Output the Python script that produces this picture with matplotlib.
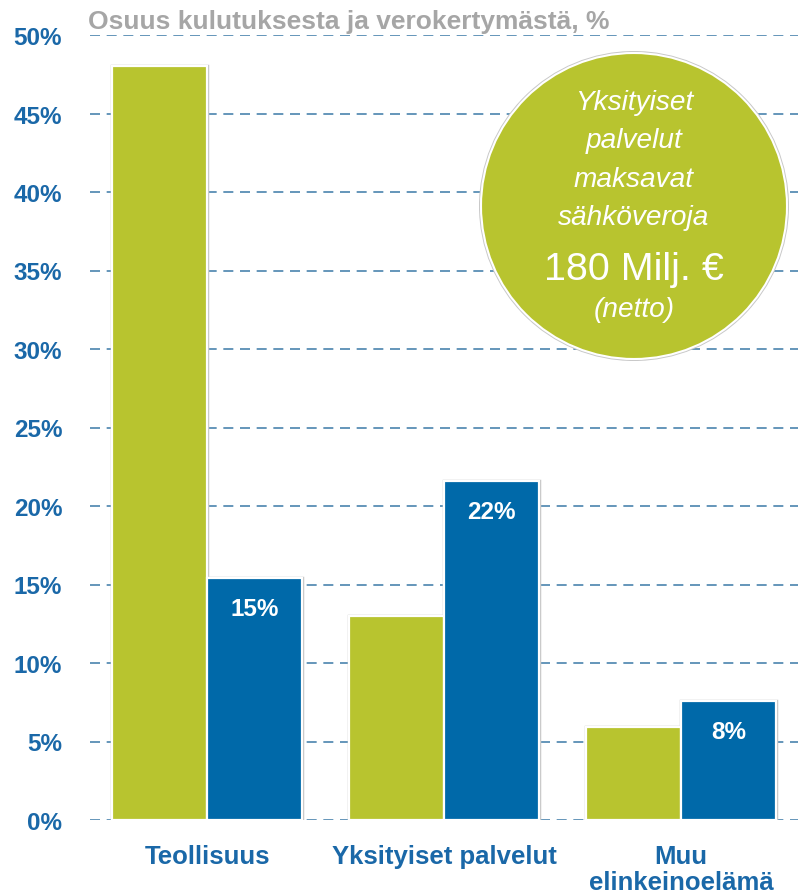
import numpy as np
import matplotlib
matplotlib.use('Agg')
import matplotlib.pyplot as plt
from matplotlib import font_manager
from matplotlib.patches import Ellipse

categories = ['Teollisuus', 'Yksityiset palvelut', 'Muu\nelinkeinoelämä']
kulutus = [48.0, 13.0, 5.9]        # osuus kulutuksesta, %
verokertyma = [15.4, 21.6, 7.6]    # osuus verokertymästä, %
yticks = [0, 5, 10, 15, 20, 25, 30, 35, 40, 45, 50]
title = 'Osuus kulutuksesta ja verokertymästä, %'
bubble_lines = ['Yksityiset', 'palvelut', 'maksavat', 'sähköveroja']
bubble_amount = '180 Milj. €'
bubble_note = '(netto)'

GREEN = '#b8c42f'
BLUE = '#0069a9'
TEXT_BLUE = '#1a68a8'
GRID = '#4a84ae'
GREY = '#a6a6a6'

plt.rcParams['font.family'] = ['Liberation Sans', 'DejaVu Sans']
names = {f.name for f in font_manager.fontManager.ttflist}
narrow = 'Liberation Sans Narrow' in names
bubble_font = ['Liberation Sans Narrow', 'Liberation Sans'] if narrow else ['Liberation Sans']
scale = 1.0 if narrow else 0.86

W, H = 798, 895
fig = plt.figure(figsize=(W / 100, H / 100), dpi=100)
ax = fig.add_axes([90 / W, 1 - 821 / H, 1 - 90 / W, (821 - 36) / H])

x = np.arange(len(categories))
w = 0.4
for vals, off, col in [(kulutus, -w / 2, GREEN), (verokertyma, w / 2, BLUE)]:
    ax.bar(x + off, vals, w, color=col, edgecolor='#c4c4c4', linewidth=2.5, zorder=3)
    ax.bar(x + off, vals, w, color=col, edgecolor='white', linewidth=1.6, zorder=4)

for xi, v in zip(x, verokertyma):
    ax.annotate(f'{v:.0f}%', (xi + w / 2, v), xytext=(0, -22), textcoords='offset points',
                ha='center', va='center', color='white', fontsize=17.5,
                fontweight='bold', zorder=5)

ax.set_xlim(-0.494, 2.494)
ax.set_ylim(0, 50)
ax.set_yticks(yticks)
ax.set_yticklabels([f'{t}%' for t in yticks])
ax.set_xticks(x)
ax.set_xticklabels(categories, linespacing=1.15)
ax.tick_params(axis='y', length=0, pad=20, labelsize=17.5, labelcolor=TEXT_BLUE)
ax.tick_params(axis='x', length=0, pad=17, labelsize=18.5, labelcolor=TEXT_BLUE)
for lab in ax.get_xticklabels() + ax.get_yticklabels():
    lab.set_fontweight('bold')

ax.yaxis.grid(True, color=GRID, linestyle=(0, (6, 4)), linewidth=1.2, zorder=0)
ax.set_axisbelow(True)
for s in ax.spines.values():
    s.set_visible(False)

fig.text(88 / W, 1 - 29 / H, title, ha='left', va='baseline', color=GREY,
         fontsize=19, fontweight='bold')

# bubble
cx, cy, r = 634, 207, 153
fig.patches.append(Ellipse((cx / W, 1 - cy / H), 2 * (r + 2) / W, 2 * (r + 2) / H,
                           transform=fig.transFigure, facecolor='#c8c8c8',
                           edgecolor='none', zorder=6))
fig.patches.append(Ellipse((cx / W, 1 - cy / H), 2 * r / W, 2 * r / H,
                           transform=fig.transFigure, facecolor=GREEN,
                           edgecolor='white', linewidth=1.5, zorder=7))
for line, base in zip(bubble_lines, [110, 148, 187, 225]):
    fig.text(cx / W, 1 - base / H, line, ha='center', va='baseline', color='white',
             fontsize=23.5 * scale, fontstyle='italic', family=bubble_font, zorder=8)
fig.text(cx / W, 1 - 280 / H, bubble_amount, ha='center', va='baseline', color='white',
         fontsize=33 * scale, family=bubble_font, zorder=8)
fig.text(cx / W, 1 - 317 / H, bubble_note, ha='center', va='baseline', color='white',
         fontsize=23.5 * scale, fontstyle='italic', family=bubble_font, zorder=8)

fig.savefig('out.png', dpi=100)
